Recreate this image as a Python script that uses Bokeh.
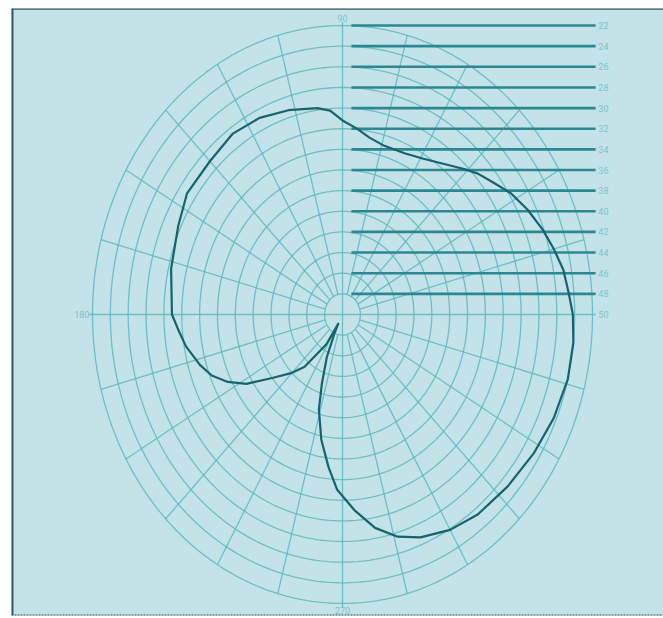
import numpy as np
from bokeh.plotting import figure
from bokeh.models import Range1d, Span
from bokeh.core.properties import value
from bokeh.embed import file_html
from bokeh.resources import INLINE

# Polar response: azimuth (degrees) and level (dB)
angle_deg = [0, 5, 10, 15, 20, 26, 32, 37, 42, 46, 52, 59, 66, 74, 80, 85, 90,
             94, 98, 107, 116, 125, 135, 146, 155, 167, 180, 185, 190, 197, 202,
             207, 212, 218, 225, 230, 238, 242, 244, 247, 251, 254, 259, 264,
             268, 274, 280, 286, 292, 300, 308, 318, 328, 337, 346, 354, 360]
level_db = [-24.2, -24.6, -24.9, -25.5, -26.1, -26.9, -27.8, -28.8, -29.6, -30.4,
            -31.5, -32.4, -32.9, -33.0, -32.6, -31.9, -31.2, -30.2, -29.8, -29.3,
            -28.8, -28.6, -29.0, -29.0, -29.7, -30.3, -30.9, -31.6, -32.2, -33.3,
            -34.2, -35.6, -37.3, -40.0, -42.0, -43.4, -46.6, -49.0, -47.9, -45.5,
            -42.9, -40.4, -37.6, -35.1, -33.0, -31.0, -29.0, -27.6, -26.7, -25.9,
            -25.4, -25.1, -24.7, -24.3, -24.0, -24.0, -24.2]

# Grid: rings every 2 dB, spokes every 15 degrees
floor_db = -50
ring_db = [-48, -46, -44, -42, -40, -38, -36, -34, -32, -30, -28, -26, -24, -22]
spoke_deg = [0, 15, 30, 45, 60, 75, 90, 105, 120, 135, 150, 165, 180, 195, 210,
             225, 240, 255, 270, 285, 300, 315, 330, 345]

# Level scale on the right
scale_db = [-22, -24, -26, -28, -30, -32, -34, -36, -38, -40, -42, -44, -46, -48]
scale_labels = ["22", "24", "26", "28", "30", "32", "34", "36", "38", "40", "42",
                "44", "46", "48", "50"]

axis_deg = [90, 180, 270]
axis_labels = ["90", "180", "270"]

BG = "#c3e3e9"
GRID = "#5fb7c1"
SCALE = "#2d8793"
CURVE = "#17636d"
LABEL = "#78c3cc"
FRAME = "#33575c"

p = figure(width=663, height=618, output_backend="svg", toolbar_location=None,
           x_axis_type=None, y_axis_type=None,
           x_range=Range1d(-37.07, 35.95), y_range=Range1d(-29.17, 29.65),
           min_border_left=11, min_border_top=8, min_border_right=0,
           min_border_bottom=3)
p.grid.visible = False
p.background_fill_color = BG
p.border_fill_color = "white"
p.outline_line_color = None

r_in = ring_db[0] - floor_db
r_out = ring_db[-1] - floor_db

# rings
t = np.linspace(0, 2 * np.pi, 361)
rx, ry = [], []
for lv in ring_db:
    r = lv - floor_db
    rx.append(r * np.cos(t))
    ry.append(r * np.sin(t))
p.multi_line(rx, ry, line_color=GRID, line_width=1.3, line_alpha=0.85)

# spokes
sx, sy = [], []
for a in spoke_deg:
    th = np.radians(a)
    if a % 90 == 0:
        continue
    sx.append([r_in * np.cos(th), r_out * np.cos(th)])
    sy.append([r_in * np.sin(th), r_out * np.sin(th)])
p.multi_line(sx, sy, line_color=GRID, line_width=1.3, line_alpha=0.85)

# main axes through the centre
ext = r_out + 0.35
p.multi_line([[0, 0], [-ext, ext]], [[-ext, ext], [0, 0]],
             line_color=GRID, line_width=1.3, line_alpha=0.85)

# right-hand level scale
sc_y = [lv - floor_db for lv in scale_db]
p.segment(x0=[1.0] * len(sc_y), y0=sc_y, x1=[ext] * len(sc_y), y1=sc_y,
          line_color=SCALE, line_width=2.6)
lab_y = [lv - floor_db for lv in scale_db] + [0]
p.text(x=[ext + 0.3] * len(lab_y), y=lab_y, text=scale_labels,
       text_font=value("Roboto"), text_font_size="9px", text_color=LABEL,
       text_align="left", text_baseline="middle")

# angle labels
p.text(x=[0], y=[ext], text=[axis_labels[0]], text_font=value("Roboto"),
       text_font_size="9px", text_color=LABEL, text_align="center",
       text_baseline="bottom")
p.text(x=[-ext], y=[0], text=[axis_labels[1]], text_font=value("Roboto"),
       text_font_size="9px", text_color=LABEL, text_align="right",
       text_baseline="middle")
p.text(x=[0], y=[-ext], text=[axis_labels[2]], text_font=value("Roboto"),
       text_font_size="9px", text_color=LABEL, text_align="center",
       text_baseline="top")

# response curve
th = np.radians(angle_deg)
rr = np.array(level_db) - floor_db
p.line(rr * np.cos(th), rr * np.sin(th), line_color=CURVE, line_width=2.2,
       line_join="round")

# frame edges
p.add_layout(Span(location=-37.07, dimension="height", line_color=FRAME,
                  line_width=4))
p.add_layout(Span(location=29.65, dimension="width", line_color=FRAME,
                  line_width=2.5))
p.add_layout(Span(location=-29.17, dimension="width", line_color=FRAME,
                  line_width=2, line_dash="2 1"))

open("out.html", "w").write(file_html(p, INLINE))
